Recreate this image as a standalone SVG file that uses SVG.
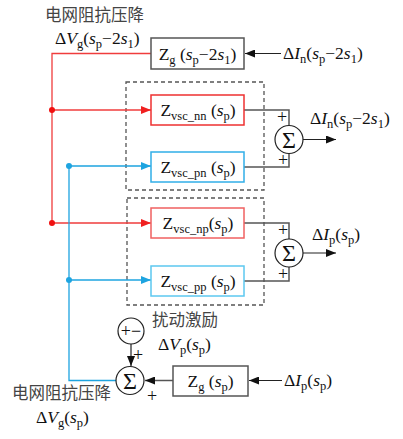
<svg xmlns="http://www.w3.org/2000/svg" width="403" height="439" viewBox="0 0 403 439">
<style>
.m{font-family:"Liberation Serif","Times New Roman",serif;font-size:17.5px;fill:#111}
.i{font-style:italic}
.s{font-size:12.5px}
.cn{font-family:"Noto Sans CJK SC","Noto Sans",sans-serif;font-size:16.5px;fill:#444}
.box{fill:#fff;stroke-width:1.5}
.dash{fill:none;stroke:#555;stroke-width:1.3;stroke-dasharray:4 3}
.g{fill:none;stroke:#555;stroke-width:1.5}
.k{fill:none;stroke:#222;stroke-width:1.2}
.r{fill:none;stroke:#f03c3c;stroke-width:1.3}
.b{fill:none;stroke:#1ea4e0;stroke-width:1.3}
.c{fill:#fff;stroke:#222;stroke-width:1.2}
.pl{font-family:"Liberation Serif",serif;font-size:18px;fill:#111}
.sig{font-family:"Liberation Serif",serif;font-size:24px;fill:#111}
</style>
<defs>
<marker id="ak" markerWidth="10" markerHeight="8" refX="10" refY="4" orient="auto" markerUnits="userSpaceOnUse"><path d="M0,0 L10,4 L0,8 Z" fill="#111"/></marker>
<marker id="ar" markerWidth="10" markerHeight="8" refX="10" refY="4" orient="auto" markerUnits="userSpaceOnUse"><path d="M0,0 L10,4 L0,8 Z" fill="#f02020"/></marker>
<marker id="ab" markerWidth="10" markerHeight="8" refX="10" refY="4" orient="auto" markerUnits="userSpaceOnUse"><path d="M0,0 L10,4 L0,8 Z" fill="#1ea4e0"/></marker>
</defs>

<g id="dashed-boxes">
<rect class="dash" x="126" y="82" width="138" height="108"/>
<rect class="dash" x="127" y="198" width="137" height="107"/>
</g>

<g id="connectors">
<polyline class="r" points="151,53.5 52,53.5 52,223 151,223" marker-end="url(#ar)"/>
<line class="r" x1="52" y1="110" x2="151" y2="110" marker-end="url(#ar)"/>
<circle cx="52" cy="110" r="3" fill="#f01010"/>
<circle cx="52" cy="223" r="3" fill="#f01010"/>
<polyline class="b" points="116,380.5 69,380.5 69,166 151,166" marker-end="url(#ab)"/>
<line class="b" x1="69" y1="280" x2="151" y2="280" marker-end="url(#ab)"/>
<circle cx="69" cy="166" r="3" fill="#1ea4e0"/>
<circle cx="69" cy="280" r="3" fill="#1ea4e0"/>
<line class="k" x1="281" y1="53.5" x2="245" y2="53.5" marker-end="url(#ak)"/>
<polyline class="g" points="244,110 289,110 289,125"/>
<polyline class="g" points="244,167 289,167 289,153"/>
<line class="k" x1="303" y1="139.5" x2="336" y2="139.5" marker-end="url(#ak)"/>
<polyline class="g" points="244,223 289,223 289,239"/>
<polyline class="g" points="244,281 289,281 289,267"/>
<line class="k" x1="303" y1="253" x2="336" y2="253" marker-end="url(#ak)"/>
<line class="k" x1="131" y1="344" x2="131" y2="366" marker-end="url(#ak)"/>
<line class="g" x1="173" y1="380.5" x2="145" y2="380.5" marker-end="url(#ak)"/>
<line class="k" x1="282" y1="380.5" x2="249" y2="380.5" marker-end="url(#ak)"/>
</g>

<g id="zg-top">
<rect class="box" x="151" y="38" width="93" height="31" stroke="#555"/>
<text class="m" x="197.5" y="59.5" text-anchor="middle">Z<tspan class="s" dy="4">g</tspan><tspan dy="-4"> (</tspan><tspan class="i">s</tspan><tspan class="s" dy="4">p</tspan><tspan dy="-4">−2</tspan><tspan class="i">s</tspan><tspan class="s" dy="4">1</tspan><tspan dy="-4">)</tspan></text>
</g>

<g id="zvsc-nn">
<rect class="box" x="151" y="95" width="93" height="30" stroke="#ee3030"/>
<text class="m" x="198" y="116" text-anchor="middle">Z<tspan class="s" dy="4">vsc_nn</tspan><tspan dy="-4"> (</tspan><tspan class="i">s</tspan><tspan class="s" dy="4">p</tspan><tspan dy="-4">)</tspan></text>
</g>

<g id="zvsc-pn">
<rect class="box" x="151" y="152" width="93" height="30" stroke="#30aee8"/>
<text class="m" x="198" y="173" text-anchor="middle">Z<tspan class="s" dy="4">vsc_pn</tspan><tspan dy="-4"> (</tspan><tspan class="i">s</tspan><tspan class="s" dy="4">p</tspan><tspan dy="-4">)</tspan></text>
</g>

<g id="zvsc-np">
<rect class="box" x="151" y="208" width="93" height="30" stroke="#f06060"/>
<text class="m" x="198" y="229" text-anchor="middle">Z<tspan class="s" dy="4">vsc_np</tspan><tspan dy="-4">(</tspan><tspan class="i">s</tspan><tspan class="s" dy="4">p</tspan><tspan dy="-4">)</tspan></text>
</g>

<g id="zvsc-pp">
<rect class="box" x="151" y="266" width="93" height="30" stroke="#5cc8f0"/>
<text class="m" x="198" y="287" text-anchor="middle">Z<tspan class="s" dy="4">vsc_pp</tspan><tspan dy="-4"> (</tspan><tspan class="i">s</tspan><tspan class="s" dy="4">p</tspan><tspan dy="-4">)</tspan></text>
</g>

<g id="sum-n">
<circle class="c" cx="289" cy="139.5" r="14"/>
<text class="sig" x="289" y="147.5" text-anchor="middle">Σ</text>
<text class="pl" x="282" y="123" text-anchor="middle">+</text>
<text class="pl" x="283" y="166" text-anchor="middle">+</text>
</g>

<g id="sum-p">
<circle class="c" cx="289" cy="253" r="14"/>
<text class="sig" x="289" y="261" text-anchor="middle">Σ</text>
<text class="pl" x="283" y="236" text-anchor="middle">+</text>
<text class="pl" x="283" y="279.5" text-anchor="middle">+</text>
</g>

<g id="source">
<circle class="c" cx="131" cy="331" r="13"/>
<text class="pl" x="131" y="337" text-anchor="middle">+−</text>
</g>

<g id="sum-v">
<circle class="c" cx="130" cy="380.5" r="14"/>
<text class="sig" x="130" y="388.5" text-anchor="middle">Σ</text>
<text class="pl" x="138" y="361" text-anchor="middle">+</text>
<text class="pl" x="152" y="402" text-anchor="middle">+</text>
</g>

<g id="zg-bottom">
<rect class="box" x="173" y="366" width="75" height="30" stroke="#555"/>
<text class="m" x="210.5" y="387" text-anchor="middle">Z<tspan class="s" dy="4">g</tspan><tspan dy="-4"> (</tspan><tspan class="i">s</tspan><tspan class="s" dy="4">p</tspan><tspan dy="-4">)</tspan></text>
</g>

<g id="labels">
<text class="cn" x="45" y="21">电网阻抗压降</text>
<text class="m" x="55" y="44">Δ<tspan class="i">V</tspan><tspan class="s" dy="4">g</tspan><tspan dy="-4">(</tspan><tspan class="i">s</tspan><tspan class="s" dy="4">p</tspan><tspan dy="-4">−2</tspan><tspan class="i">s</tspan><tspan class="s" dy="4">1</tspan><tspan dy="-4">)</tspan></text>
<text class="m" x="283" y="59">Δ<tspan class="i">I</tspan><tspan class="s" dy="4">n</tspan><tspan dy="-4">(</tspan><tspan class="i">s</tspan><tspan class="s" dy="4">p</tspan><tspan dy="-4">−2</tspan><tspan class="i">s</tspan><tspan class="s" dy="4">1</tspan><tspan dy="-4">)</tspan></text>
<text class="m" x="310" y="124">Δ<tspan class="i">I</tspan><tspan class="s" dy="4">n</tspan><tspan dy="-4">(</tspan><tspan class="i">s</tspan><tspan class="s" dy="4">p</tspan><tspan dy="-4">−2</tspan><tspan class="i">s</tspan><tspan class="s" dy="4">1</tspan><tspan dy="-4">)</tspan></text>
<text class="m" x="312" y="240">Δ<tspan class="i">I</tspan><tspan class="s" dy="4">p</tspan><tspan dy="-4">(</tspan><tspan class="i">s</tspan><tspan class="s" dy="4">p</tspan><tspan dy="-4">)</tspan></text>
<text class="cn" x="152" y="326">扰动激励</text>
<text class="m" x="158" y="350">Δ<tspan class="i">V</tspan><tspan class="s" dy="4">p</tspan><tspan dy="-4">(</tspan><tspan class="i">s</tspan><tspan class="s" dy="4">p</tspan><tspan dy="-4">)</tspan></text>
<text class="m" x="284" y="386">Δ<tspan class="i">I</tspan><tspan class="s" dy="4">p</tspan><tspan dy="-4">(</tspan><tspan class="i">s</tspan><tspan class="s" dy="4">p</tspan><tspan dy="-4">)</tspan></text>
<text class="cn" x="12" y="399">电网阻抗压降</text>
<text class="m" x="36" y="423">Δ<tspan class="i">V</tspan><tspan class="s" dy="4">g</tspan><tspan dy="-4">(</tspan><tspan class="i">s</tspan><tspan class="s" dy="4">p</tspan><tspan dy="-4">)</tspan></text>
</g>
</svg>
